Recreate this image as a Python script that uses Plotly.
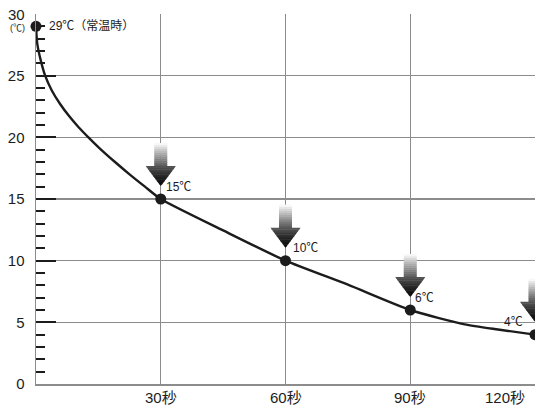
import plotly.graph_objects as go

# ---- data ----
time_s = [0, 30, 60, 90, 120]
temp_c = [29, 15, 10, 6, 4]
point_labels = ["29℃（常温時）", "15℃", "10℃", "6℃", "4℃"]

# cooling curve
curve_t = [0, 0.3, 1.1, 2.2, 3.8, 5.8, 8.0, 10.3, 12.6, 15.5, 19, 22.5, 26.2, 30,
           45, 60, 75, 90, 103.1, 111.1, 120]
curve_temp = [29, 27.6, 26.3, 25.0, 23.8, 22.7, 21.7, 20.8, 20.0, 19.05, 18.0, 17.0, 16.0, 15,
              12.45, 10, 8.05, 6, 4.84, 4.42, 4.0]

y_ticks = [0, 5, 10, 15, 20, 25, 30]
y_unit = "(℃)"
x_ticks = [30, 60, 90, 120]
x_tick_labels = ["30秒", "60秒", "90秒", "120秒"]

# ---- styles ----
FONT = "Liberation Sans, Arial, Noto Sans CJK JP, sans-serif"
INK = "#1c1c1c"
GRID = "#8c8c8c"

fig = go.Figure()

fig.add_trace(go.Scatter(
    x=curve_t, y=curve_temp, mode="lines",
    line=dict(color=INK, width=2.4, shape="spline", smoothing=0.6),
    hoverinfo="skip", showlegend=False))

fig.add_trace(go.Scatter(
    x=time_s, y=temp_c, mode="markers",
    marker=dict(color=INK, size=11), cliponaxis=False,
    hoverinfo="skip", showlegend=False))

# gradient arrows above each measured point (except start)
shapes = []
TIP, BASE, TOP = 13, 33, 56
HW_HEAD, HW_SHAFT = 15, 6.5


def shade(h):
    t = max(0.0, min(1.0, (h - TIP) / (TOP - TIP)))
    g = int(round(10 + 245 * t ** 1.5))
    return f"rgb({g},{g},{g})"


for xv, yv in zip(time_s[1:], temp_c[1:]):
    n = 12
    for i in range(n):
        h0 = BASE + (TOP - BASE) * i / n
        h1 = BASE + (TOP - BASE) * (i + 1) / n
        path = (f"M{-HW_SHAFT},{h0 - 0.4} L{HW_SHAFT},{h0 - 0.4} "
                f"L{HW_SHAFT},{h1} L{-HW_SHAFT},{h1} Z")
        shapes.append(dict(type="path", xref="x", yref="y",
                           xsizemode="pixel", ysizemode="pixel",
                           xanchor=xv, yanchor=yv, path=path,
                           fillcolor=shade((h0 + h1) / 2),
                           line=dict(width=0), layer="above"))
    for i in range(n):
        h0 = TIP + (BASE - TIP) * i / n
        h1 = TIP + (BASE - TIP) * (i + 1) / n
        w0 = HW_HEAD * (h0 - TIP) / (BASE - TIP)
        w1 = HW_HEAD * (h1 - TIP) / (BASE - TIP)
        hb = h0 - 0.4 if i > 0 else h0
        path = (f"M{-w0},{hb} L{w0},{hb} L{w1},{h1} L{-w1},{h1} Z")
        shapes.append(dict(type="path", xref="x", yref="y",
                           xsizemode="pixel", ysizemode="pixel",
                           xanchor=xv, yanchor=yv, path=path,
                           fillcolor=shade((h0 + h1) / 2),
                           line=dict(width=0), layer="above"))

annotations = []
# point labels: (xanchor, xshift, yshift)
label_pos = [("left", 11, 0), ("left", 3, 12), ("left", 5, 13), ("left", 3, 12), ("right", -10, 13)]
for xv, yv, txt, (anc, dx, dy) in zip(time_s, temp_c, point_labels, label_pos):
    annotations.append(dict(x=xv, y=yv, xref="x", yref="y", text=txt,
                            showarrow=False, xanchor=anc, yanchor="middle",
                            xshift=dx, yshift=dy,
                            font=dict(family=FONT, size=12, color=INK)))

# x tick labels (last one pulled inside the window)
x_label_shift = [0, 0, 0, -30]
for xv, txt, dx in zip(x_ticks, x_tick_labels, x_label_shift):
    annotations.append(dict(x=xv, y=0, xref="x", yref="paper", text=txt,
                            showarrow=False, xanchor="center", yanchor="top",
                            xshift=dx, yshift=-3,
                            font=dict(family=FONT, size=15, color=INK)))

# top y label and unit
annotations.append(dict(x=0, y=y_ticks[-1], xref="paper", yref="y",
                        text=str(y_ticks[-1]), showarrow=False,
                        xanchor="right", yanchor="middle", xshift=-9,
                        font=dict(family=FONT, size=15, color=INK)))
annotations.append(dict(x=0, y=y_ticks[-1], xref="paper", yref="y",
                        text=y_unit, showarrow=False,
                        xanchor="right", yanchor="middle", xshift=-9, yshift=-14,
                        font=dict(family=FONT, size=9, color=INK)))

grid_y = [v for v in y_ticks if v < max(y_ticks)]

fig.update_layout(
    width=535, height=405,
    margin=dict(l=36, r=0, t=14, b=21),
    paper_bgcolor="white", plot_bgcolor="white",
    font=dict(family=FONT, size=15, color=INK),
    shapes=shapes, annotations=annotations,
    hovermode=False,
    xaxis=dict(range=[0, max(x_ticks)], tickvals=x_ticks, showticklabels=False,
               ticks="", showgrid=True, gridcolor=GRID, gridwidth=1.3,
               zeroline=False, showline=True, linecolor=GRID, linewidth=1.5,
               fixedrange=True),
    yaxis=dict(range=[0, max(y_ticks)], tickvals=grid_y,
               ticktext=[str(v) for v in grid_y],
               ticks="inside", ticklen=20, tickwidth=2, tickcolor=INK,
               ticklabelstandoff=7,
               minor=dict(dtick=1, ticks="inside", ticklen=9, tickwidth=2,
                          tickcolor=INK, showgrid=False),
               showgrid=True, gridcolor=GRID, gridwidth=1.3,
               zeroline=False, showline=True, linecolor=GRID, linewidth=1.5,
               tickfont=dict(family=FONT, size=15, color=INK),
               fixedrange=True),
)

# remove the default page margin so the figure fills the 535x405 window exactly
page_fix = ("document.documentElement.style.overflow='hidden';"
            "document.body.style.margin='0';"
            "document.body.style.overflow='hidden';")
fig.write_html("out.html", post_script=page_fix,
               config={"displayModeBar": False, "staticPlot": True})
